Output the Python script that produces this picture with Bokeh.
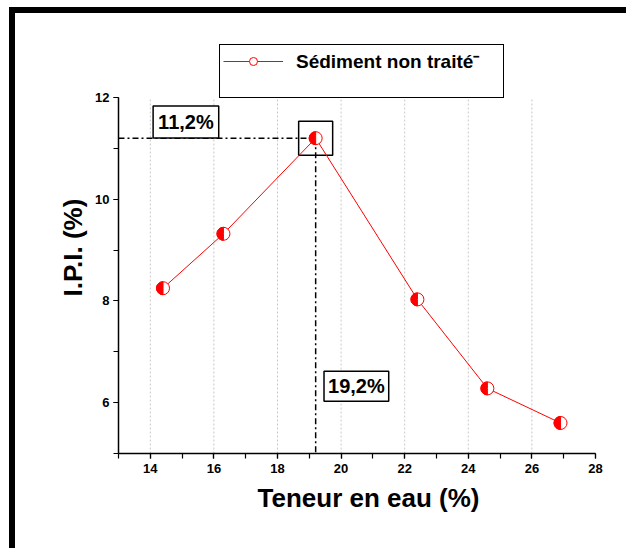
import numpy as np
from bokeh.plotting import figure
from bokeh.models import (Range1d, SingleIntervalTicker, Label, Legend, LegendItem, Title)
from bokeh.embed import file_html
from bokeh.resources import INLINE

# ---- data ----
water_content = [14.4, 16.3, 19.2, 22.4, 24.6, 26.9]
ipi = [8.25, 9.32, 11.2, 8.03, 6.28, 5.6]
x_ticks = [14, 16, 18, 20, 22, 24, 26, 28]
series_name = "Sédiment non traité⁻"
x_title = "Teneur en eau (%)"
y_title = "I.P.I. (%)"

peak = int(np.argmax(ipi))
px, py = water_content[peak], ipi[peak]

FONT = "Liberation Sans"
X0, X1, Y0, Y1 = 13, 28, 5, 12
PX_PER_Y = 50.86          # pixels per y unit
TOP_EXTRA = 56 / PX_PER_Y  # room above the y axis for the legend box

p = figure(width=626, height=548, output_backend="svg", toolbar_location=None,
           x_range=Range1d(X0, X1), y_range=Range1d(Y0, Y1 + TOP_EXTRA),
           min_border_left=118, min_border_right=31, min_border_top=41, min_border_bottom=95)
p.styles = {"box-shadow": "inset 9px 7px 0 0 white, inset 15px 13px 0 0 black"}
p.background_fill_color = "white"
p.border_fill_alpha = 0
p.outline_line_color = None

xt = SingleIntervalTicker(interval=2, num_minor_ticks=2)
yt = SingleIntervalTicker(interval=2, num_minor_ticks=2)
p.xaxis.ticker = xt
p.yaxis.ticker = yt
p.yaxis.bounds = (Y0, Y1)
p.xgrid.grid_line_color = None
p.ygrid.grid_line_color = None

for ax in (p.xaxis, p.yaxis):
    ax.axis_line_color = "black"
    ax.axis_line_width = 1.5
    ax.major_tick_line_color = "black"
    ax.minor_tick_line_color = "black"
    ax.major_tick_line_width = 1.2
    ax.minor_tick_line_width = 1.2
    ax.major_tick_in = 0
    ax.major_tick_out = 5
    ax.minor_tick_in = 0
    ax.minor_tick_out = 5
    ax.major_label_text_font = FONT
    ax.major_label_text_font_style = "bold"
    ax.major_label_text_font_size = "13px"
    ax.major_label_text_color = "black"
p.xaxis.major_label_standoff = 5
p.yaxis.major_label_standoff = 4

# axis titles as side-panel titles so they can be shifted along the axis
p.add_layout(Title(text=y_title, align="center", offset=-24, standoff=10,
                   text_font=FONT, text_font_style="bold", text_font_size="26px",
                   text_color="black"), "left")
p.add_layout(Title(text=x_title, align="left", offset=139, standoff=10,
                   text_font=FONT, text_font_style="bold", text_font_size="26px",
                   text_color="black"), "below")

# vertical dotted grid lines, only up to the top of the y axis
gx = [t for t in x_ticks if X0 < t < X1]
p.segment(x0=gx, y0=[Y0] * len(gx), x1=gx, y1=[Y1] * len(gx),
          line_color="#c8c8c8", line_width=1, line_dash="2 2")

# guide lines to the peak
p.line([X0, px], [py, py], line_color="black", line_width=1.5, line_dash="6 3 2 3")
p.line([px, px], [py, Y0], line_color="black", line_width=1.5, line_dash="6 3 2 3")
p.scatter([px], [py], marker="square", size=34, fill_color=None, line_color="black", line_width=1.5)

# series
line_r = p.line(water_content, ipi, line_color="red", line_width=1)
open_r = p.scatter(water_content, ipi, size=13, fill_color="white", line_color="red", line_width=1)
p.wedge(water_content, ipi, radius=6.5, radius_units="screen",
        start_angle=np.pi / 2, end_angle=3 * np.pi / 2,
        fill_color="red", line_color="red", line_width=1)
blank_r = p.line(water_content, ipi, line_alpha=0)

# annotation labels
lab_y = Label(x=15.12, y=11.52, text=f"{py:.1f}".replace(".", ",") + "%",
              text_font=FONT, text_font_style="bold", text_font_size="20px",
              text_color="black", text_align="center", text_baseline="middle",
              border_line_color="black", border_line_width=1.5,
              background_fill_color="white", padding=5)
lab_x = Label(x=20.48, y=6.32, text=f"{px:.1f}".replace(".", ",") + "%",
              text_font=FONT, text_font_style="bold", text_font_size="20px",
              text_color="black", text_align="center", text_baseline="middle",
              border_line_color="black", border_line_width=1.5,
              background_fill_color="white", padding=4)
p.add_layout(lab_y)
p.add_layout(lab_x)

legend = Legend(items=[LegendItem(label=series_name, renderers=[line_r, open_r]),
                       LegendItem(label=" ", renderers=[blank_r])],
                location=(101, 355), padding=3, spacing=-1, glyph_width=60, glyph_height=20,
                label_height=20, label_width=204, label_standoff=13,
                label_text_font=FONT, label_text_font_style="bold",
                label_text_font_size="19px", label_text_color="black",
                border_line_color="black", border_line_width=1, border_line_alpha=1,
                background_fill_color="white", background_fill_alpha=1)
p.add_layout(legend)

open("out.html", "w").write(file_html(p, INLINE))
